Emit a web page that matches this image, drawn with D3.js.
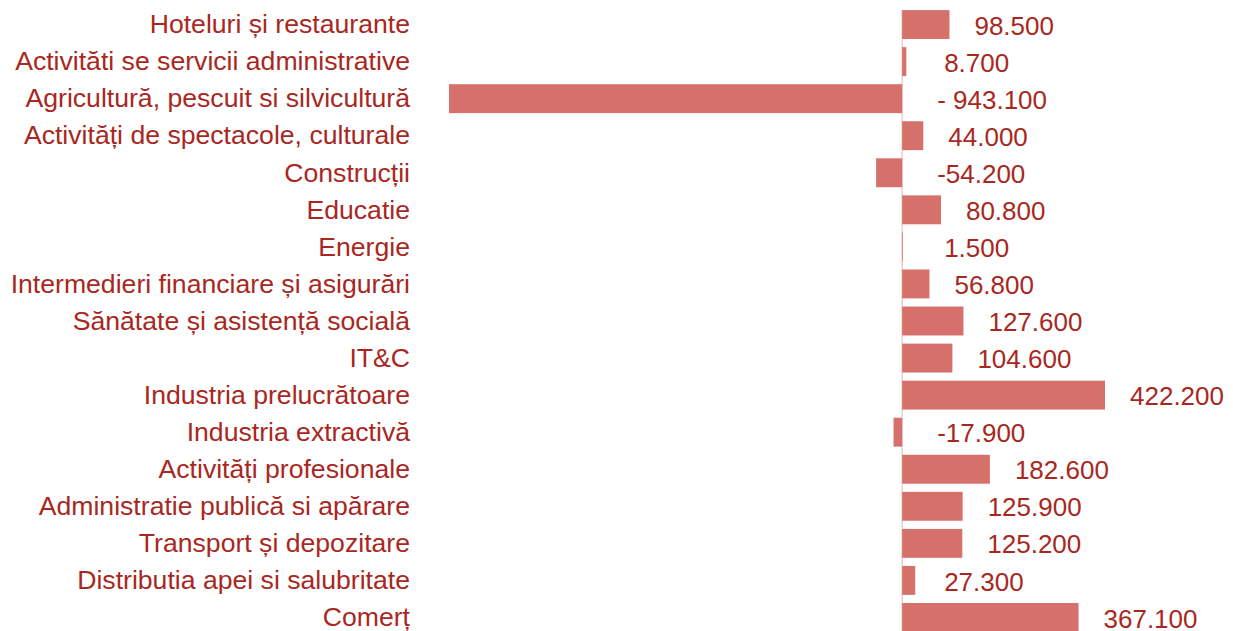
<!DOCTYPE html>
<html>
<head>
<meta charset="utf-8">
<script src="https://cdn.jsdelivr.net/npm/d3@7/dist/d3.min.js"></script>
<style>
  html, body { margin: 0; padding: 0; background: #fff; overflow: hidden; }
  svg { display: block; font-family: "Liberation Sans", Arial, sans-serif; }
</style>
</head>
<body>
<script>
// sectors, top to bottom
var categories = [
    "Hoteluri și restaurante",
    "Activităti se servicii administrative",
    "Agricultură, pescuit si silvicultură",
    "Activități de spectacole, culturale",
    "Construcții",
    "Educatie",
    "Energie",
    "Intermedieri financiare și asigurări",
    "Sănătate și asistență socială",
    "IT&C",
    "Industria prelucrătoare",
    "Industria extractivă",
    "Activități profesionale",
    "Administratie publică si apărare",
    "Transport și depozitare",
    "Distributia apei si salubritate",
    "Comerț"
];
var values = [98.5, 8.7, -943.1, 44.0, -54.2, 80.8, 1.5, 56.8, 127.6, 104.6, 422.2, -17.9, 182.6, 125.9, 125.2, 27.3, 367.1];
var valueLabels = ["98.500", "8.700", "- 943.100", "44.000", "-54.200", "80.800", "1.500", "56.800", "127.600",
    "104.600", "422.200", "-17.900", "182.600", "125.900", "125.200", "27.300", "367.100"];

var width = 1233;
var height = 631;

var barColor = "#d5706a";
var textColor = "#a8281f";

var svg = d3.select("body").append("svg").attr("width", width).attr("height", height);

var x = d3.scaleLinear().domain([-943.1, 422.2]).range([449, 1105]);
var y = d3.scaleBand().domain(categories).range([6, 636]).paddingInner(0.22).paddingOuter(0.11);

// zero line
svg.append("line")
    .attr("x1", x(0)).attr("x2", x(0))
    .attr("y1", y(categories[0])).attr("y2", height)
    .attr("stroke", "#eebfbb").attr("stroke-width", 1.2);

svg.selectAll("rect.bar").data(values).enter().append("rect")
    .attr("class", "bar")
    .attr("x", function (d) { return x(Math.min(0, d)); })
    .attr("y", function (d, i) { return y(categories[i]); })
    .attr("width", function (d) { return Math.abs(x(d) - x(0)); })
    .attr("height", y.bandwidth())
    .attr("fill", barColor);

// category labels (source font is slightly wider than it is tall)
svg.selectAll("text.cat").data(categories).enter().append("text")
    .attr("class", "cat")
    .attr("transform", function (d) {
        return "translate(410," + (y(d) + y.bandwidth() / 2) + ") scale(1.065,1)";
    })
    .attr("dy", "0.35em")
    .attr("text-anchor", "end")
    .attr("font-size", 25)
    .attr("fill", textColor)
    .text(function (d) { return d; });

// value labels
svg.selectAll("text.val").data(values).enter().append("text")
    .attr("class", "val")
    .attr("x", function (d) { return d < 0 ? x(0) + 35 : Math.max(x(d) + 25, x(0) + 42); })
    .attr("y", function (d, i) { return y(categories[i]) + y.bandwidth() / 2 + 1; })
    .attr("dy", "0.35em")
    .attr("font-size", 26)
    .attr("fill", textColor)
    .text(function (d, i) { return valueLabels[i]; });
</script>
</body>
</html>
